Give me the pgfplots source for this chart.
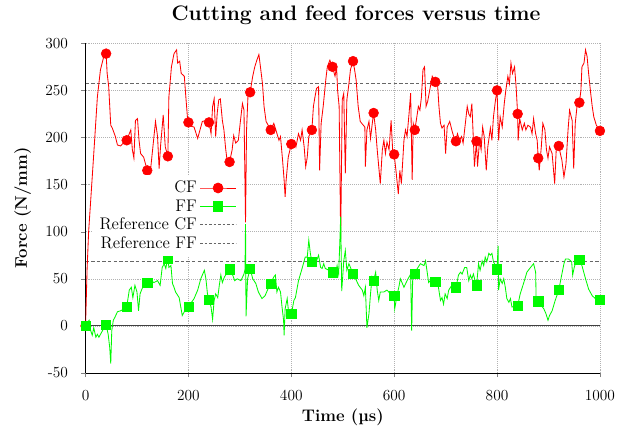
\documentclass[border=0pt]{standalone}
\usepackage{pgfplots}
\pgfplotsset{compat=1.18}
\definecolor{cfred}{RGB}{255,0,0}
\definecolor{ffgreen}{RGB}{0,250,0}
\pgfplotsset{
  longleg/.style={legend image code/.code={\draw[mark repeat=2,mark phase=2,##1] plot coordinates {(0cm,0cm) (0.45cm,0cm) (0.9cm,0cm)};}},
  longdash/.style={legend image code/.code={\draw[##1] (0cm,0cm) -- (0.9cm,0cm);}},
}
\begin{document}
\begin{tikzpicture}
\begin{axis}[
  scale only axis, width=367.4pt, height=235.5pt,
  xmin=0, xmax=1000, ymin=-50, ymax=300,
  axis x line*=bottom, axis y line*=left,
  xtick={0,200,...,1000}, ytick={-50,0,...,300},
  xticklabels={0,200,400,600,800,1000},
  yticklabels={-50,0,50,100,150,200,250,300},
  tick align=outside, major tick length=3pt,
  tick label style={font=\fontsize{11}{13}\selectfont},
  xticklabel style={yshift=-6pt},
  yticklabel style={xshift=-6pt},
  grid=major, grid style={densely dotted, black!30},
  axis line style={black, line width=0.5pt, -},
  every axis title shift=0pt,
  title={\fontsize{15}{18}\selectfont\bfseries Cutting and feed forces versus time},
  title style={at={(axis description cs:0.5257,1.0677)}, anchor=base},
  xlabel={\fontsize{12}{14}\selectfont\bfseries Time (\textmu s)},
  xlabel style={at={(axis description cs:0.5,-0.147)}, anchor=base},
  ylabel={\fontsize{12}{14}\selectfont\bfseries Force (N/mm)},
  ylabel style={at={(axis description cs:-0.114,0.5)}, anchor=base},
  legend style={draw=none, fill=white, at={(0.302,0.60)}, anchor=north east,
    font=\fontsize{12}{14}\selectfont, row sep=-0.7pt,
    every odd column/.append style={column sep=4pt}},
  legend cell align=right,
  legend plot pos=right,
]
\addlegendimage{longleg, cfred, line width=0.6pt, mark=*, mark size=3.5pt}
\addlegendentry{CF}
\addlegendimage{longleg, ffgreen, line width=0.6pt, mark=square*, mark size=3.3pt}
\addlegendentry{FF}
\addlegendimage{longdash, black!60, line width=0.5pt, dash pattern=on 2pt off 1.2pt}
\addlegendentry{Reference CF}
\addlegendimage{longdash, black!60, line width=0.5pt, dash pattern=on 2pt off 1.2pt}
\addlegendentry{Reference FF}
% reference and zero lines
\addplot[forget plot, black!60, line width=0.5pt, dash pattern=on 2.5pt off 1.5pt] coordinates {(0,257) (1000,257)};
\addplot[forget plot, black!60, line width=0.5pt, dash pattern=on 2.5pt off 1.5pt] coordinates {(0,69) (1000,69)};
\addplot[forget plot, black!75, line width=0.6pt] coordinates {(0,0) (1000,0)};
% CF curve
\addplot[forget plot, cfred, line width=0.6pt, no marks] table {
x y
0 0
3 60
6 100
10 133
16 183
23 243
29 272
36 287
40 289
42 268
45 254
49 213
52 210
58 201
62 192
68 191
75 195
80 197
88 208
91 187
94 178
97 218
101 220
104 197
107 183
113 179
120 165
127 169
133 201
136 217
140 201
143 167
146 192
151 224
155 190
160 180
162 243
167 275
172 289
177 293
179 279
183 281
186 268
192 265
195 243
198 222
200 216
205 212
211 211
218 199
227 217
234 218
240 216
244 204
247 233
250 241
253 201
256 226
259 240
262 241
266 218
269 208
272 190
275 176
280 174
285 187
288 202
292 194
297 197
301 217
305 236
308 229
311 110
313 208
316 247
320 248
325 265
329 275
333 282
337 288
340 275
344 257
347 233
351 217
357 211
360 208
366 215
370 208
376 197
379 201
383 176
386 155
388 137
390 155
394 179
400 193
405 197
409 190
414 204
418 197
421 208
425 190
428 169
431 179
434 201
440 208
443 233
446 243
449 252
453 254
455 165
458 215
462 233
467 261
470 275
475 282
480 275
485 265
488 275
490 250
493 233
496 92
499 240
502 247
505 162
508 240
512 257
515 272
520 281
523 272
526 261
530 233
534 217
540 213
543 211
544 169
547 208
551 217
554 199
557 213
560 226
564 208
567 187
570 169
573 151
577 187
580 197
583 183
586 195
590 187
594 218
597 187
600 182
604 162
608 140
611 165
614 151
619 197
622 208
625 201
629 226
632 247
635 155
637 215
640 208
643 218
647 233
650 229
653 243
656 272
659 275
662 233
665 238
669 250
674 265
680 259
684 259
687 233
690 215
693 210
697 213
700 183
703 211
708 217
713 206
719 195
723 204
727 197
731 201
734 194
739 218
742 233
745 225
748 222
751 236
754 197
756 169
760 196
762 169
766 197
769 187
772 211
775 201
779 165
782 190
787 210
790 197
793 222
797 240
800 250
803 197
806 222
810 211
814 236
817 250
821 265
824 257
827 279
830 268
834 275
837 254
840 225
841 197
844 220
849 208
853 215
856 208
860 213
865 211
868 204
871 220
875 204
878 197
880 178
882 165
886 190
889 215
893 208
896 187
899 178
902 190
907 183
912 151
915 187
920 191
923 183
926 176
930 158
934 172
938 208
941 229
946 218
949 167
952 215
956 236
960 237
963 250
965 275
969 279
972 293
975 286
978 268
982 247
985 233
988 222
993 213
1000 207
};
\addplot[forget plot, cfred, only marks, mark=*, mark size=3.5pt] coordinates {
(0,0) (40,289) (80,197) (120,165) (160,180) (200,216) (240,216) (280,174)
(320,248) (360,208) (400,193) (440,208) (480,275) (520,281) (560,226) (600,182)
(640,208) (680,259) (720,196) (760,196) (800,250) (840,225) (880,178) (920,191)
(960,237) (1000,207)};
% FF curve
\addplot[forget plot, ffgreen, line width=0.6pt, no marks] table {
x y
0 0
7 6
10 -5
13 -10
16 -2
20 -12
23 -9
26 -12
29 -9
33 -5
36 -2
40 1
44 -9
47 -23
49 -40
51 -5
54 6
57 9
62 15
68 16
75 18
80 20
85 38
89 41
92 30
96 43
100 36
103 16
106 34
111 41
115 45
120 46
127 48
133 46
140 48
145 43
149 62
153 66
156 61
160 72
162 62
166 64
169 45
172 41
175 36
182 30
188 11
193 16
200 20
206 25
211 29
218 38
224 50
231 59
234 50
237 34
240 28
244 20
247 7
250 27
253 34
257 30
260 43
263 54
266 46
270 52
276 57
280 60
286 54
290 48
295 50
302 48
308 55
310 60
311 108
312 10
315 50
320 61
325 50
331 45
336 36
343 29
349 32
356 41
360 45
366 52
369 54
372 36
375 41
379 36
382 20
385 6
386 -10
388 18
392 29
395 13
400 12
405 27
408 30
414 48
421 61
427 73
431 73
434 91
437 77
440 68
447 66
453 75
457 62
460 61
463 66
466 61
473 59
480 57
486 54
489 64
492 55
494 84
496 116
498 37
502 69
505 80
508 59
512 66
515 62
520 55
525 50
531 43
538 38
541 32
544 41
547 -2
551 13
554 34
557 52
560 48
564 57
567 38
570 27
573 36
580 36
586 38
593 34
596 30
600 32
601 18
606 34
609 41
612 50
619 41
625 48
632 55
634 -5
636 50
640 55
645 61
651 66
658 64
661 69
667 46
673 50
680 47
686 41
690 27
693 30
696 23
699 34
703 29
706 38
712 43
720 40
725 54
729 57
732 55
737 62
741 62
745 48
748 54
751 50
754 55
760 42
764 66
767 59
771 69
774 64
777 73
780 68
784 77
787 75
790 77
793 68
797 64
800 60
802 85
803 38
806 50
810 45
813 50
816 41
819 29
823 25
826 29
829 20
840 21
845 34
852 46
858 57
865 62
871 66
875 57
876 27
880 26
884 23
891 18
895 13
899 6
902 11
907 16
913 27
920 38
926 55
930 66
933 71
939 71
945 68
947 54
950 62
954 69
960 70
965 64
972 50
978 39
985 32
991 29
1000 28
};
\addplot[forget plot, ffgreen, only marks, mark=square*, mark size=3.3pt] coordinates {
(0,0) (40,1) (80,20) (120,46) (160,71) (200,20) (240,28) (280,60)
(320,61) (360,45) (400,13) (440,68) (480,57) (520,55) (560,48) (600,32)
(640,55) (680,47) (720,41) (760,43) (800,60) (840,21) (880,26) (920,38)
(960,70) (1000,28)};
\coordinate (sw) at (rel axis cs:0,0);
\coordinate (ne) at (rel axis cs:1,1);
\end{axis}
\pgfresetboundingbox
\path (sw) ++(-61.1pt,-44.3pt) coordinate (bb1);
\path (ne) ++(17.9pt,30.9pt) coordinate (bb2);
\path[use as bounding box] (bb1) rectangle (bb2);
\end{tikzpicture}
\end{document}
